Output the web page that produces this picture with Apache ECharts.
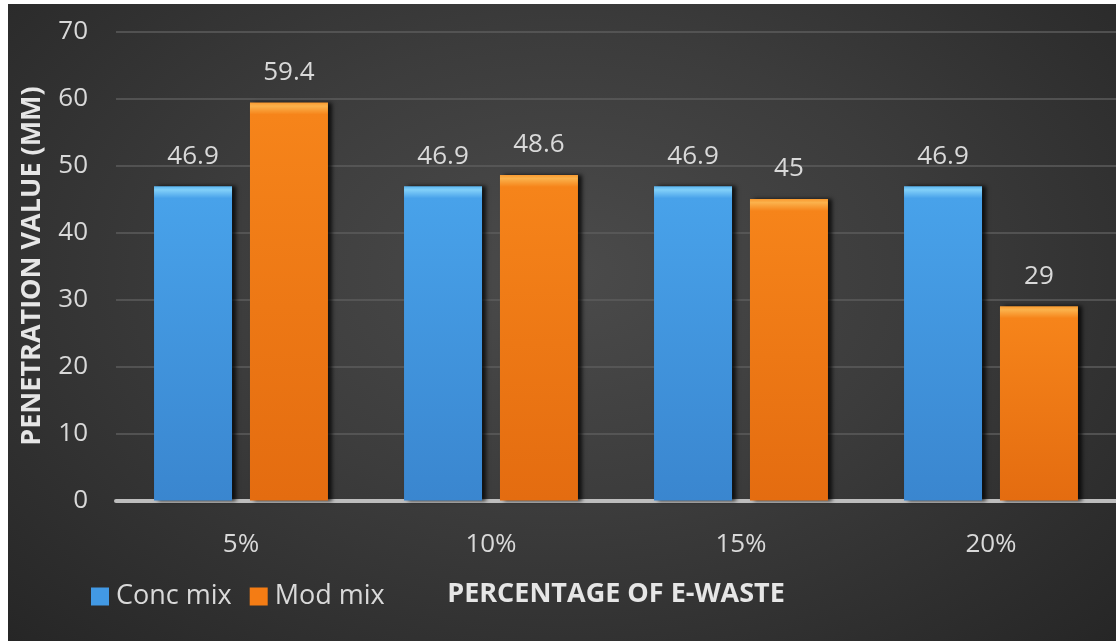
<!DOCTYPE html>
<html>
<head>
<meta charset="utf-8">
<script src="https://cdn.jsdelivr.net/npm/echarts@6/dist/echarts.min.js"></script>
<style>
  html, body { margin: 0; padding: 0; background: #ffffff; width: 1116px; height: 641px; overflow: hidden; }
  #bg { position: absolute; left: 8px; top: 4px; width: 1108px; height: 637px;
        background: radial-gradient(ellipse at 50% 42%, #4b4b4b 0%, #3c3c3c 45%, #262626 100%); }
  #chart { position: absolute; left: 0; top: 0; width: 1116px; height: 641px; }
</style>
</head>
<body>
<div id="bg"></div>
<div id="chart"></div>
<script>
const categories = ['5%', '10%', '15%', '20%'];
const concMix = [46.9, 46.9, 46.9, 46.9];
const modMix = [59.4, 48.6, 45, 29];
const yTicks = [0, 10, 20, 30, 40, 50, 60, 70];

const PX_PER_UNIT = 469 / 70;
function bevel(v, top, light, mid, bottom) {
  const s = Math.min(0.5, 12 / (v * PX_PER_UNIT));
  return {
    type: 'linear', x: 0, y: 0, x2: 0, y2: 1,
    colorStops: [
      { offset: 0, color: top },
      { offset: s * 0.3, color: light },
      { offset: s, color: mid },
      { offset: 1, color: bottom }
    ]
  };
}
function items(arr, top, light, mid, bottom) {
  return arr.map(v => ({ value: v, itemStyle: { color: bevel(v, top, light, mid, bottom) } }));
}

const chart = echarts.init(document.getElementById('chart'), null, { renderer: 'canvas' });
const txt = '#d9d9d9';
const font = '"Open Sans", sans-serif';
chart.setOption({
  backgroundColor: 'transparent',
  textStyle: { fontFamily: font },
  grid: { left: 116, top: 31.5, width: 1006, height: 469 },
  legend: {
    left: 86, top: 578,
    itemWidth: 18, itemHeight: 18, itemGap: 18,
    icon: 'rect',
    textStyle: { color: txt, fontSize: 27, fontFamily: font, padding: [0, 0, 0, 2] },
    data: ['Conc mix', 'Mod mix']
  },
  xAxis: {
    type: 'category',
    data: categories,
    name: 'PERCENTAGE OF E-WASTE',
    nameLocation: 'middle',
    nameGap: 80,
    nameTextStyle: { color: '#e6e6e6', fontSize: 27, fontWeight: 'bold', fontFamily: font },
    axisLine: { lineStyle: { color: '#bdbdbd', width: 4 } },
    axisTick: { show: false },
    axisLabel: { color: txt, fontSize: 26, margin: 31, fontFamily: font }
  },
  yAxis: {
    type: 'value',
    min: yTicks[0], max: yTicks[yTicks.length - 1], interval: 10,
    name: 'PENETRATION VALUE (MM)',
    nameLocation: 'middle',
    nameGap: 70,
    nameTextStyle: { color: '#e6e6e6', fontSize: 27, fontWeight: 'bold', fontFamily: font },
    axisLine: { show: false },
    axisTick: { show: false },
    axisLabel: { color: txt, fontSize: 26, margin: 28, fontFamily: font },
    splitLine: { lineStyle: { color: '#5c5c5c', width: 1.5 } }
  },
  series: [
    {
      name: 'Conc mix', type: 'bar',
      barWidth: 78, barGap: '23%',
      itemStyle: { color: '#4299e4', shadowColor: 'rgba(0,0,0,0.75)', shadowBlur: 4, shadowOffsetX: 4 },
      label: { show: true, position: 'top', distance: 17, color: txt, fontSize: 26, fontFamily: font },
      data: items(concMix, '#5ab6f2', '#82d0f9', '#48a2ea', '#3a86cf')
    },
    {
      name: 'Mod mix', type: 'bar',
      barWidth: 78,
      itemStyle: { color: '#f47c14', shadowColor: 'rgba(0,0,0,0.75)', shadowBlur: 4, shadowOffsetX: 4 },
      label: { show: true, position: 'top', distance: 17, color: txt, fontSize: 26, fontFamily: font },
      data: items(modMix, '#f99a30', '#fbb24c', '#f6841a', '#e46c10')
    }
  ]
});
</script>
</body>
</html>
